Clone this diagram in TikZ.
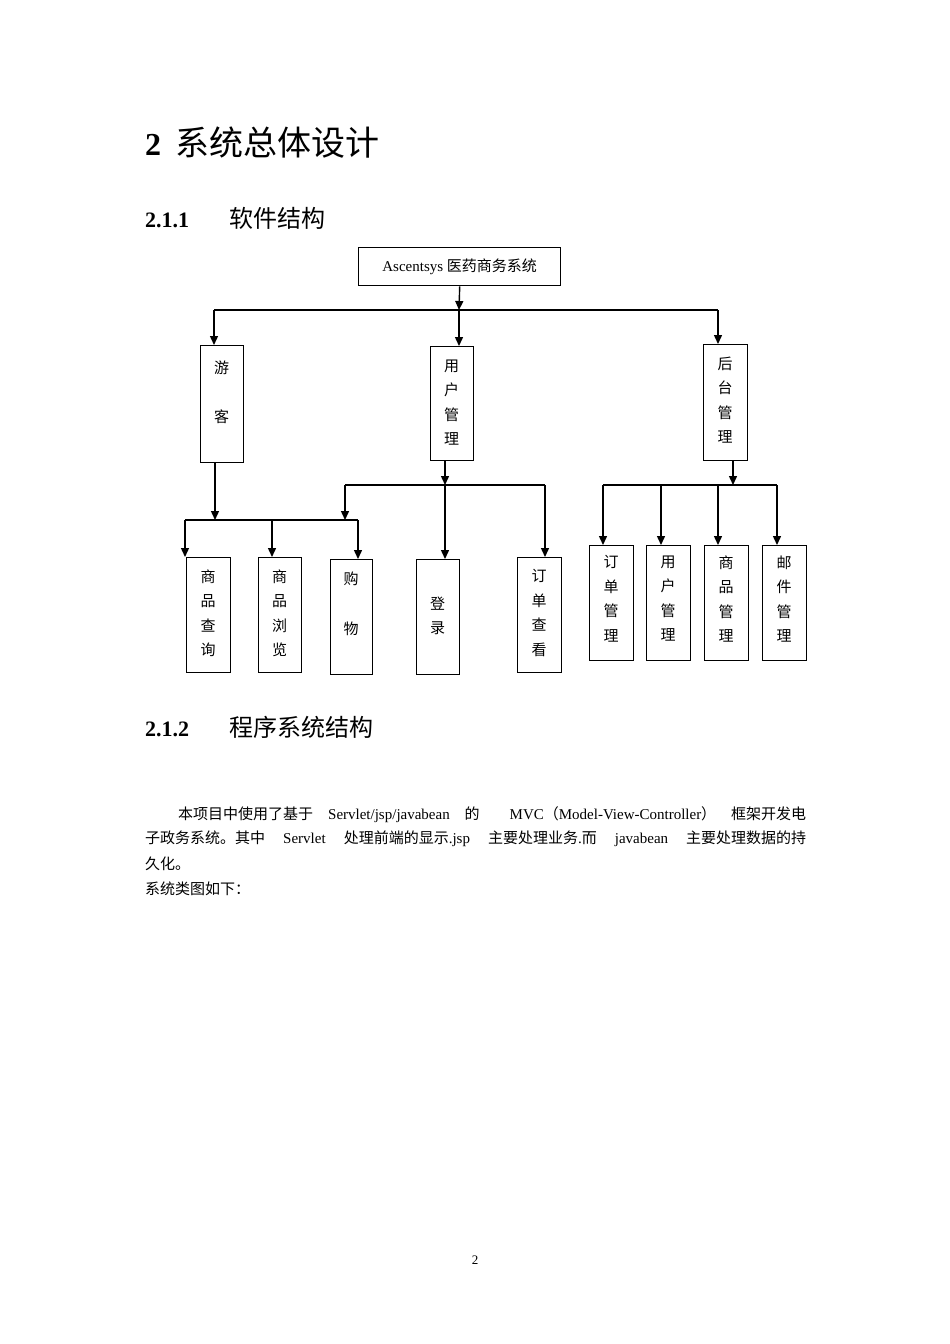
\documentclass[tikz,border=0pt]{standalone}
\usepackage{fontspec}
\setmainfont{Liberation Serif}
\newfontfamily\cjk{Noto Sans CJK SC}
\usetikzlibrary{arrows.meta}
\begin{document}
\begin{tikzpicture}[x=1pt,y=-1pt,
  bx/.style={draw,line width=1.4pt,inner sep=0pt,anchor=north west,font=\cjk\fontsize{15}{25}\selectfont,align=center},
  ar/.style={line width=1.4pt,-{Triangle[length=9pt,width=8pt]}},
  ln/.style={line width=1.4pt},
  tx/.style={anchor=west,inner sep=0pt,font=\fontsize{15}{18}\selectfont}]
\useasboundingbox (0,0) rectangle (950,1344);
\node[anchor=west,inner sep=0pt,font=\bfseries\fontsize{32}{36}\selectfont] (h1) at (145,143) {2\hspace{14pt}{\cjk\mdseries\fontsize{34}{36}\selectfont 系统总体设计}};
\node[anchor=west,inner sep=0pt,font=\bfseries\fontsize{22}{26}\selectfont] (h2) at (145,218) {2.1.1\hspace{40pt}{\cjk\mdseries\fontsize{24}{26}\selectfont 软件结构}};
\node[anchor=west,inner sep=0pt,font=\bfseries\fontsize{22}{26}\selectfont] (h3) at (145,727) {2.1.2\hspace{40pt}{\cjk\mdseries\fontsize{24}{26}\selectfont 程序系统结构}};
% boxes
\node[draw,line width=1.4pt,minimum width=202pt,minimum height=38pt,inner sep=0pt,anchor=north west,font=\fontsize{15}{18}\selectfont] (top) at (358,247) {Ascentsys {\cjk 医药商务系统}};
\node[bx,minimum width=43pt,minimum height=117pt] (yk) at (200,345) {};
\node[font=\cjk\fontsize{15}{18}\selectfont] at (221.5,368) {游};
\node[font=\cjk\fontsize{15}{18}\selectfont] at (221.5,417) {客};
\node[bx,minimum width=43pt,minimum height=114pt] (yh) at (430,346) {};
\node[font=\cjk\fontsize{15}{24.5}\selectfont,align=center,anchor=north] at (451.5,356) {用\\户\\管\\理};
\node[bx,minimum width=44pt,minimum height=116pt] (ht) at (703,344) {};
\node[font=\cjk\fontsize{15}{24.5}\selectfont,align=center,anchor=north] at (725,353) {后\\台\\管\\理};
\node[bx,minimum width=44pt,minimum height=115pt] (cx) at (186,557) {};
\node[font=\cjk\fontsize{15}{24.5}\selectfont,align=center,anchor=north] at (208,566) {商\\品\\查\\询};
\node[bx,minimum width=43pt,minimum height=115pt] (ll) at (258,557) {};
\node[font=\cjk\fontsize{15}{24.5}\selectfont,align=center,anchor=north] at (279.5,566) {商\\品\\浏\\览};
\node[bx,minimum width=42pt,minimum height=115pt] (gw) at (330,559) {};
\node[font=\cjk\fontsize{15}{18}\selectfont] at (351,579) {购};
\node[font=\cjk\fontsize{15}{18}\selectfont] at (351,629) {物};
\node[bx,minimum width=43pt,minimum height=115pt] (dl) at (416,559) {};
\node[font=\cjk\fontsize{15}{24.5}\selectfont,align=center] at (437.5,616) {登\\录};
\node[bx,minimum width=44pt,minimum height=115pt] (dd) at (517,557) {};
\node[font=\cjk\fontsize{15}{24.5}\selectfont,align=center,anchor=north] at (539,566) {订\\单\\查\\看};
\foreach \x/\n/\t in {589/b1/订\\单\\管\\理,646/b2/用\\户\\管\\理,704/b3/商\\品\\管\\理,762/b4/邮\\件\\管\\理}{
  \node[bx,minimum width=44pt,minimum height=115pt] (\n) at (\x,545) {};
  \node[font=\cjk\fontsize{15}{24.5}\selectfont,align=center,anchor=north] at (\x+22,552) {\t};
}
% connectors
\coordinate (j0) at (459,310);
\draw[ar] (top.south) -- (j0);
\draw[ln] (214,310) -- (718,310);
\draw[ar] (214,310) -- (214,345);
\draw[ar] (459,310) -- (459,346);
\draw[ar] (718,310) -- (718,344);
% 游客
\draw[ar] (215,462) -- (215,520);
\draw[ln] (185,520) -- (358,520);
\draw[ar] (185,520) -- (185,557);
\draw[ar] (272,520) -- (272,557);
\draw[ar] (358,520) -- (358,559);
% 用户管理
\draw[ar] (445,460) -- (445,485);
\draw[ln] (345,485) -- (545,485);
\draw[ar] (345,485) -- (345,520);
\draw[ar] (445,485) -- (445,559);
\draw[ar] (545,485) -- (545,557);
% 后台
\draw[ar] (733,460) -- (733,485);
\draw[ln] (603,485) -- (777,485);
\foreach \x in {603,661,718,777} \draw[ar] (\x,485) -- (\x,545);
% paragraph
\node[tx] (p1) at (178,815) {\makebox[628pt][s]{{\cjk 本项目中使用了基于}\ Servlet/jsp/javabean\ {\cjk 的}\ \ MVC{\cjk （}Model-View-Controller{\cjk ）}\ {\cjk 框架开发电}}};
\node[tx] (p2) at (145,839) {\makebox[661pt][s]{{\cjk 子政务系统。其中}\ Servlet\ {\cjk 处理前端的显示}.jsp\ {\cjk 主要处理业务}.{\cjk 而}\ javabean\ {\cjk 主要处理数据的持}}};
\node[tx] (p3) at (145,864) {\cjk 久化。};
\node[tx] (p4) at (145,889) {\cjk 系统类图如下：};
\node[font=\fontsize{13}{15}\selectfont] (pg) at (475,1260) {2};
\end{tikzpicture}
\end{document}
